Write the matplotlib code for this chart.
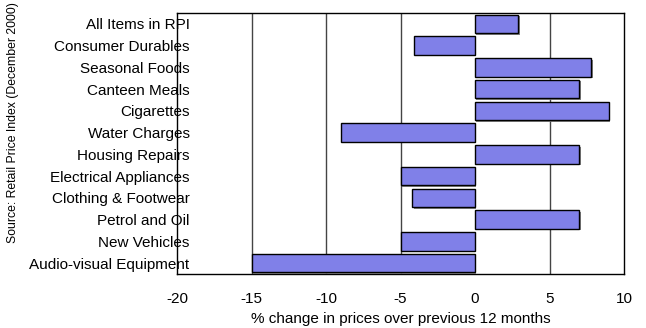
import numpy as np
import matplotlib.pyplot as plt
import matplotlib.patheffects as pe

plt.rcParams['font.family'] = ['Liberation Sans', 'DejaVu Sans']

categories = ["All Items in RPI", "Consumer Durables", "Seasonal Foods", "Canteen Meals",
              "Cigarettes", "Water Charges", "Housing Repairs", "Electrical Appliances",
              "Clothing & Footwear", "Petrol and Oil", "New Vehicles", "Audio-visual Equipment"]
pct_change = [2.9, -4.1, 7.8, 7.0, 9.0, -9.0, 7.0, -5.0, -4.2, 7.0, -5.0, -15.0]
xticks = [-20, -15, -10, -5, 0, 5, 10]

fig = plt.figure(figsize=(6.46, 3.28), dpi=100)
ax = fig.add_axes([177 / 646, 1 - 274 / 328, 447 / 646, 261 / 328])

y = np.arange(len(categories))
bars = ax.barh(y, pct_change, height=0.85, color='#8080e8', edgecolor='black',
               linewidth=1.0, zorder=3)
for b in bars:
    b.set_path_effects([pe.SimplePatchShadow(offset=(1, -1), shadow_rgbFace='#777777', alpha=0.9),
                        pe.Normal()])

for v in [-15, -10, -5, 5]:
    ax.axvline(v, color='#444444', linewidth=1.0, zorder=1)

ax.set_xlim(-20, 10)
ax.set_ylim(len(categories) - 0.5, -0.5)
ax.set_xticks(xticks)
ax.set_xticklabels([str(t) for t in xticks], fontsize=11)
ax.tick_params(axis='x', length=0, pad=13)
ax.set_yticks(y)
ax.set_yticklabels(categories, fontsize=11)
ax.tick_params(axis='y', length=0, pad=-9)
for lab in ax.get_yticklabels():
    lab.set_zorder(5)

for s in ax.spines.values():
    s.set_linewidth(1.0)
    s.set_color('black')

ax.set_xlabel("% change in prices over previous 12 months", fontsize=11, labelpad=4)
fig.text(13 / 646, 1 - 123 / 328, "Source: Retail Price Index (December 2000)", rotation=90,
         fontsize=8.8, ha='center', va='center')

fig.savefig("out.png", dpi=100)
